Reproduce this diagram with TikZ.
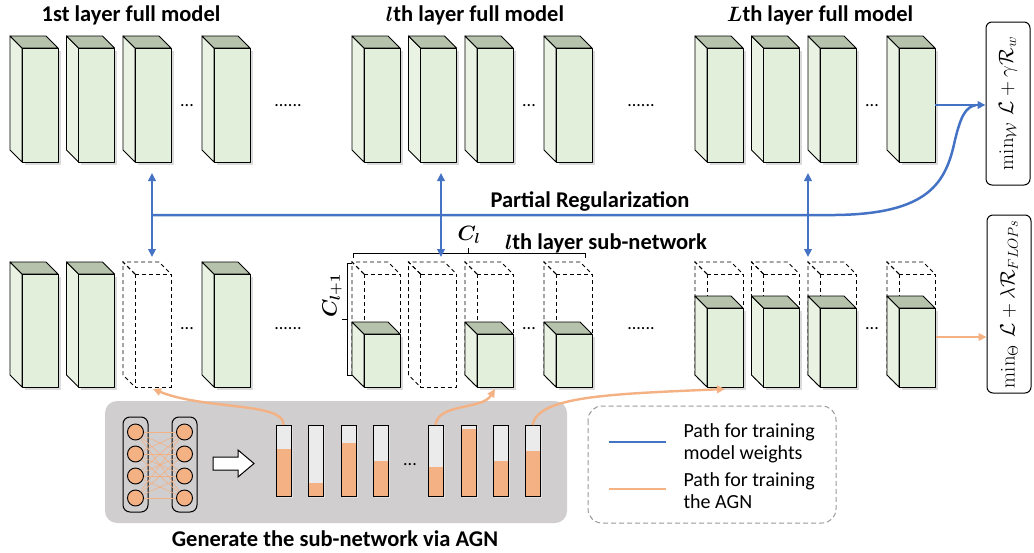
\documentclass[tikz,border=0pt]{standalone}
\usepackage{amsmath,amssymb,bm}
\usepackage[no-math]{fontspec}
\setmainfont{Carlito}
\usetikzlibrary{calc, arrows.meta}

\definecolor{facegreen}{HTML}{E2EFDA}
\definecolor{sidegreen}{HTML}{EAF3E3}
\definecolor{topgreen}{HTML}{B6C2AC}
\definecolor{pathblue}{HTML}{4472C4}
\definecolor{pathorange}{HTML}{F4B183}
\definecolor{agngray}{HTML}{D0CECE}

\tikzset{
  boxedge/.style={draw=black, line width=0.9pt, line join=round},
  ghostedge/.style={draw=black, line width=0.8pt, dash pattern=on 4pt off 3pt},
  bluepath/.style={draw=pathblue, line width=2.5pt},
  orangepath/.style={draw=pathorange, line width=2.4pt},
  blueboth/.style={bluepath, arrows={Triangle[length=8pt,width=7.5pt]-Triangle[length=8pt,width=7.5pt]}},
  bluetip/.style={bluepath, arrows={-Triangle[length=8pt,width=7.5pt]}},
  orangetip/.style={orangepath, arrows={-Triangle[length=8pt,width=7.5pt]}},
  title/.style={font=\fontsize{22.5}{26}\selectfont\bfseries},
  layerdots/.style={font=\fontsize{18}{20}\selectfont},
  legendtext/.style={font=\fontsize{20}{22}\selectfont, align=left, anchor=west},
  objbox/.style={draw, line width=1pt, rounded corners=6pt, rotate=90, inner sep=1pt,
    minimum height=44, font=\fontsize{22}{24}\selectfont},
  neuron/.style={circle, draw, line width=0.9pt, fill=pathorange, minimum size=16, inner sep=0pt},
}

% solid feature map: name, x of front face, top, height
\newcommand{\fullbox}[4]{%
  \fill[black!14] (#2+2.5,#3+2.5) rectangle ++(36,#4);
  \filldraw[boxedge, fill=sidegreen] (#2,#3) -- ++(-12,-12) -- ++(0,#4) -- ++(12,12) -- cycle;
  \filldraw[boxedge, fill=topgreen] (#2,#3) -- ++(-12,-12) -- ++(36,0) -- ++(12,12) -- cycle;
  \filldraw[boxedge, fill=facegreen] (#2,#3) rectangle ++(36,#4);
  \coordinate (#1) at (#2+18,#3+#4/2);
  \coordinate (#1-r) at (#2+36,#3+#4/2);
}
% pruned (dashed) feature map in the sub-network row: name, x
\newcommand{\ghostbox}[2]{%
  \draw[ghostedge] (#2,274) -- ++(-12,-12) -- ++(0,113) -- ++(12,12);
  \draw[ghostedge] (#2,274) -- ++(-12,-12) -- ++(36,0) -- ++(12,12);
  \draw[ghostedge] (#2,274) rectangle ++(36,113);
  \coordinate (#1-b) at (#2+18,389);
}

\begin{document}
\begin{tikzpicture}[x=1pt, y=-1pt]
  \useasboundingbox (0,0) rectangle (1034,552);

  % full model, one group per layer
  \foreach \gx/\gn in {22/a,364/b,707/c}{
    \foreach \off [count=\k] in {0,56.5,113,192}
      \fullbox{t\gn\k}{\gx+\off}{48}{114};
    \node[layerdots] (tdots\gn) at (\gx+165,106) {...};
  }
  \node[layerdots] (tgapab) at (288,106) {......};
  \node[layerdots] (tgapbc) at (641,106) {......};
  \node[title] (ttla) at (131,15) {1st layer full model};
  \node[title] (ttlb) at (475,15) {$\bm{l}$th layer full model};
  \node[title] (ttlc) at (820,15) {$\bm{L}$th layer full model};

  % sub-network row
  \fullbox{ba1}{22}{274}{113}
  \fullbox{ba2}{78.5}{274}{113}
  \ghostbox{ba3}{135}
  \fullbox{ba4}{214}{274}{113}
  \foreach \off [count=\k] in {0,56.5,113,192}
    \ghostbox{bb\k}{364+\off};
  \foreach \off in {0,113,192}
    \fullbox{bbg}{364+\off}{334}{53};
  \foreach \off [count=\k] in {0,56.5,113,192}{
    \ghostbox{bc\k}{707+\off}
    \fullbox{bcg\k}{707+\off}{308}{79}
  }
  \foreach \gx/\gn in {22/a,364/b,707/c}
    \node[layerdots] (bdots\gn) at (\gx+165,329) {...};
  \node[layerdots] (bgapab) at (288,329) {......};
  \node[layerdots] (bgapbc) at (641,329) {......};

  % channel brackets
  \draw[line width=0.8pt] (353,258) -- (353,253) -- (585,253) -- (585,258);
  \draw[line width=0.8pt] (468,253) -- (468,248);
  \draw[line width=0.8pt] (352,263) -- (347,263) -- (347,375) -- (352,375);
  \draw[line width=0.8pt] (347,319) -- (342,319);
  \node[font=\fontsize{22}{24}\selectfont] (cl) at (469,235) {$\bm{C_l}$};
  \node[font=\fontsize{22}{24}\selectfont, rotate=90] (clp) at (332,296) {$\bm{C_{l+1}}$};
  \node[title] (subttl) at (606,243) {$\bm{l}$th layer sub-network};

  % objectives
  \node[objbox, minimum width=163] (objw) at (1008,103.5)
    {$\min_{\mathcal{W}}\,\mathcal{L}+\gamma\mathcal{R}_w$};
  \node[objbox, minimum width=178] (objf) at (1009,304)
    {$\min_{\Theta}\,\mathcal{L}+\lambda\mathcal{R}_{FLOPs}$};

  % partial regularization paths
  \foreach \ax [count=\k] in {152,441,808}{
    \coordinate (up\k) at (\ax,173);
    \coordinate (dn\k) at (\ax,257);
    \draw[blueboth] (up\k) -- (dn\k);
  }
  \coordinate (regA) at (152,215);
  \coordinate (regB) at (835,215);
  \coordinate (regC) at (976,105);
  \draw[bluepath] (regA) -- (regB) .. controls (930,214) and (946,182) .. (955,140)
    .. controls (961,115) and (966,107) .. (regC);
  \draw[bluetip] (tc4-r) -- (objw.north |- tc4-r);
  \node[title] (preg) at (590,201) {Partial Regularization};

  % AGN
  \fill[agngray, rounded corners=12] (105,401) rectangle (567,523);
  \node[title] (agncap) at (335,539) {Generate the sub-network via AGN};
  \draw[line width=1pt, rounded corners=7] (123,417) rectangle (148,512);
  \draw[line width=1pt, rounded corners=7] (172,417) rectangle (197,512);
  \foreach \ny [count=\k] in {432,454,476,498}{
    \node[neuron] (n\k) at (135.5,\ny) {};
    \node[neuron] (m\k) at (184.5,\ny) {};
  }
  \foreach \i in {1,...,4}
    \foreach \j in {1,...,4}
      \draw[pathorange, line width=0.6pt] (n\i) -- (m\j);
  \draw[line width=1pt, fill=white] (213,457) -- (238,457) -- (238,450) -- (254,463.5)
    -- (238,477) -- (238,470) -- (213,470) -- cycle;
  \foreach \bx/\lv [count=\k] in {276/449,308/483,341/443,373/461,428/467,461/429,493/461,525/451}{
    \fill[black!12] (\bx+2,427) rectangle (\bx+17,498);
    \fill[black!8] (\bx,425) rectangle (\bx+15,496);
    \fill[pathorange] (\bx,\lv) rectangle (\bx+15,496);
    \draw[line width=1pt] (\bx,425) rectangle (\bx+15,496);
    \coordinate (bar\k) at (\bx+7.5,425);
  }
  \node[layerdots] (bardots) at (410,465) {...};

  % sub-network generation paths
  \draw[orangetip] (bar1) .. controls (285,402) and (205,410) .. (ba3-b);
  \draw[orangetip] (bar5) .. controls (438,403) and (482,410) .. (bb3-b);
  \draw[orangetip] (bar8) .. controls (538,396) and (610,394) .. (bc1-b);
  \coordinate (flopsout) at (936,337);
  \draw[orangetip] (flopsout) -- (objf.north |- flopsout);

  % legend
  \draw[gray!80, line width=1pt, dash pattern=on 5pt off 3pt, rounded corners=14]
    (588,406) rectangle (836,523);
  \coordinate (lgb1) at (609,442);
  \coordinate (lgb2) at (666,442);
  \coordinate (lgo1) at (609,489);
  \coordinate (lgo2) at (666,489);
  \draw[bluepath] (lgb1) -- (lgb2);
  \draw[orangepath] (lgo1) -- (lgo2);
  \node[legendtext] (lgblue) at (680,443) {Path for training\\model weights};
  \node[legendtext] (lgorange) at (680,491) {Path for training\\the AGN};
\end{tikzpicture}
\end{document}
